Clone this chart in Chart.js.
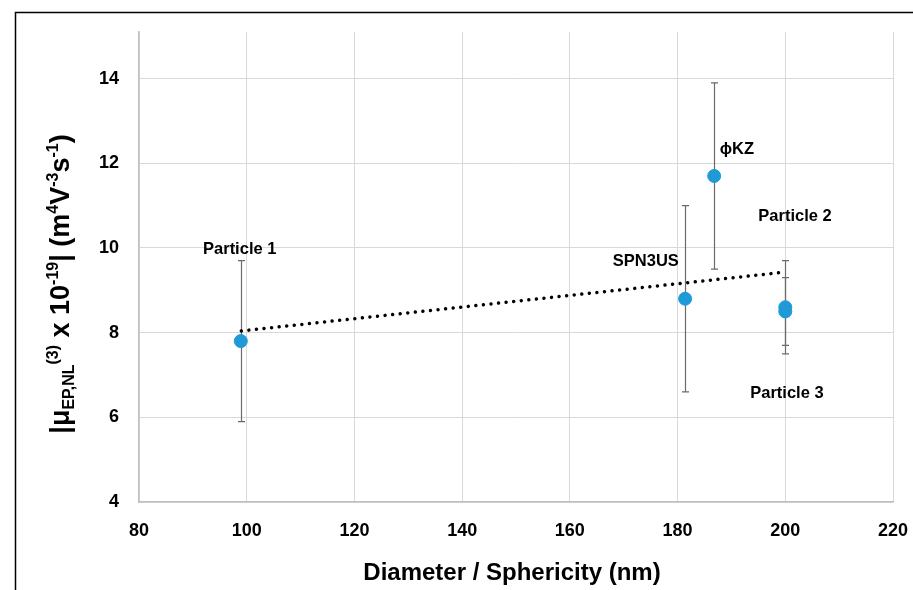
<!DOCTYPE html>
<html>
<head>
<meta charset="utf-8">
<script src="https://cdn.jsdelivr.net/npm/chart.js@4"></script>
<style>
  html, body { margin: 0; padding: 0; background: #fff; }
  #wrap { width: 913px; height: 590px; }
</style>
</head>
<body>
<div id="wrap"><canvas id="myChart" width="913" height="590"></canvas></div>
<script>
const names = ['Particle 1', 'SPN3US', 'ϕKZ', 'Particle 2', 'Particle 3'];
const diameters = [98.9, 181.4, 186.8, 200, 200];
const mobility = [7.8, 8.8, 11.7, 8.6, 8.5];
const errors = [1.9, 2.2, 2.2, 1.1, 0.8];
const trendX = [99, 200];
const trendY = [8.04, 9.43];
const xTicks = [80, 100, 120, 140, 160, 180, 200, 220];
const yTicks = [4, 6, 8, 10, 12, 14];

// where each name sits, in chart units
const labelPos = [[98.7, 9.96], [174.1, 9.69], [191.0, 12.33], [201.8, 10.75], [200.3, 6.57]];

const FONT = "'Liberation Sans', Arial, sans-serif";

let points = [];
diameters.forEach((d, i) => {
    points.push({x: d, y: mobility[i]});
});
let trend = trendX.map((x, i) => ({x: x, y: trendY[i]}));

const extras = {
    id: 'extras',
    beforeDatasetsDraw(chart) {
        const ctx = chart.ctx;
        const xs = chart.scales.x, ys = chart.scales.y;
        ctx.save();
        ctx.strokeStyle = '#6b6b6b';
        ctx.lineWidth = 1.2;
        diameters.forEach((d, i) => {
            const px = Math.round(xs.getPixelForValue(d)) + 0.5;
            const top = ys.getPixelForValue(mobility[i] + errors[i]);
            const bot = ys.getPixelForValue(mobility[i] - errors[i]);
            ctx.beginPath();
            ctx.moveTo(px, top); ctx.lineTo(px, bot);
            ctx.moveTo(px - 3.5, top); ctx.lineTo(px + 3.5, top);
            ctx.moveTo(px - 3.5, bot); ctx.lineTo(px + 3.5, bot);
            ctx.stroke();
        });
        ctx.restore();
    },
    afterDatasetsDraw(chart) {
        const ctx = chart.ctx;
        const xs = chart.scales.x, ys = chart.scales.y;
        ctx.save();
        ctx.fillStyle = '#000';
        ctx.font = 'bold 16.5px ' + FONT;
        ctx.textAlign = 'center';
        ctx.textBaseline = 'middle';
        names.forEach((n, i) => {
            ctx.fillText(n, xs.getPixelForValue(labelPos[i][0]), ys.getPixelForValue(labelPos[i][1]));
        });
        ctx.restore();
    },
    afterDraw(chart) {
        const ctx = chart.ctx;
        ctx.save();
        // outer frame
        ctx.strokeStyle = '#000';
        ctx.lineWidth = 1.5;
        ctx.beginPath();
        ctx.moveTo(913, 12.5); ctx.lineTo(15.5, 12.5); ctx.lineTo(15.5, 590);
        ctx.stroke();

        // x title
        ctx.fillStyle = '#000';
        ctx.font = 'bold 24px ' + FONT;
        ctx.textAlign = 'center';
        ctx.textBaseline = 'alphabetic';
        ctx.fillText('Diameter / Sphericity (nm)', 512, 580);

        // y title with sub/superscripts
        const parts = [
            ['|μ', 'n'], ['EP,NL', 'sub'], ['(3)', 'sup'], [' x 10', 'n'], ['-19', 'sup'],
            ['| (m', 'n'], ['4', 'sup'], ['V', 'n'], ['-3', 'sup'], ['s', 'n'], ['-1', 'sup'], [')', 'n']
        ];
        const big = 'bold 27px ' + FONT;
        const small = 'bold 16px ' + FONT;
        let total = 0;
        parts.forEach(p => {
            ctx.font = p[1] === 'n' ? big : small;
            total += ctx.measureText(p[0]).width;
        });
        ctx.translate(69, 284);
        ctx.rotate(-Math.PI / 2);
        ctx.textAlign = 'left';
        let x = -total / 2;
        parts.forEach(p => {
            ctx.font = p[1] === 'n' ? big : small;
            const dy = p[1] === 'sup' ? -11 : (p[1] === 'sub' ? 5 : 0);
            ctx.fillText(p[0], x, dy);
            x += ctx.measureText(p[0]).width;
        });
        ctx.restore();
    }
};

const data = {
    datasets: [
        {
            type: 'line',
            data: trend,
            borderColor: '#000',
            borderWidth: 3.5,
            borderDash: [0.01, 7.6],
            borderCapStyle: 'round',
            pointRadius: 0,
            fill: false
        },
        {
            type: 'scatter',
            data: points,
            backgroundColor: '#1f9ad6',
            borderColor: '#1f9ad6',
            pointRadius: 6.5,
            pointHoverRadius: 6.5
        }
    ]
};

const config = {
    type: 'scatter',
    data: data,
    plugins: [extras],
    options: {
        responsive: false,
        animation: false,
        layout: { padding: { top: 32, right: 20, left: 0, bottom: 0 } },
        plugins: { legend: { display: false }, tooltip: { enabled: false } },
        scales: {
            x: {
                type: 'linear',
                min: 80,
                max: 220,
                afterBuildTicks: axis => { axis.ticks = xTicks.map(v => ({value: v})); },
                afterFit: axis => { axis.height = 88; axis.paddingLeft = 0; axis.paddingRight = 0; },
                grid: { color: '#d9d9d9', lineWidth: 1, drawTicks: false, tickLength: 0 },
                border: { color: '#bfbfbf', width: 1.5 },
                ticks: {
                    padding: 18,
                    color: '#000',
                    font: { family: FONT, weight: 'bold', size: 18 },
                    maxRotation: 0
                }
            },
            y: {
                type: 'linear',
                min: 4,
                max: 15.1,
                afterBuildTicks: axis => { axis.ticks = yTicks.map(v => ({value: v})); },
                afterFit: axis => { axis.width = 139; axis.paddingTop = 0; axis.paddingBottom = 0; },
                grid: { color: '#d9d9d9', lineWidth: 1, drawTicks: false, tickLength: 0 },
                border: { color: '#bfbfbf', width: 1.5 },
                ticks: {
                    padding: 20,
                    color: '#000',
                    font: { family: FONT, weight: 'bold', size: 18 }
                }
            }
        }
    }
};

new Chart(document.getElementById('myChart'), config);
</script>
</body>
</html>
